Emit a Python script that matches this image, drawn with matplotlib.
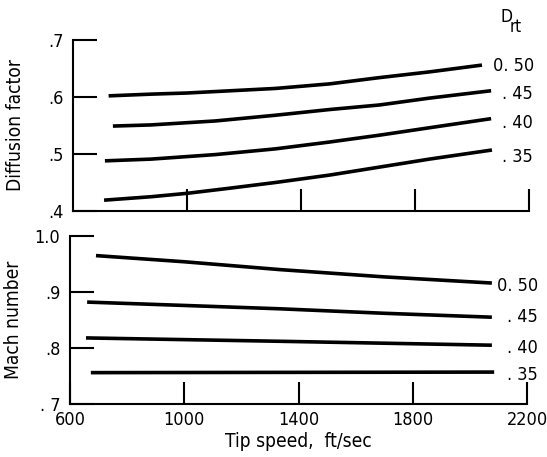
import matplotlib
matplotlib.use("Agg")
import matplotlib.pyplot as plt

plt.rcParams['font.family'] = ['DejaVu Sans']
plt.rcParams['font.stretch'] = 'condensed'

# ---- data ----
x_ticks = [600, 1000, 1400, 1800, 2200]
x_ticklabels = ['600', '1000', '1400', '1800', '2200']
drt_labels = ['0. 50', '. 45', '. 40', '. 35']
keys = ['0.50', '0.45', '0.40', '0.35']

# Diffusion factor (top panel)
df_x = {
    '0.50': [725, 873, 1000, 1310, 1500, 1675, 1850, 2035],
    '0.45': [740, 873, 1100, 1310, 1500, 1675, 1850, 2067],
    '0.40': [712, 873, 1100, 1310, 1500, 1675, 1850, 2067],
    '0.35': [709, 873, 1000, 1150, 1310, 1500, 1675, 1850, 2070],
}
df_y = {
    '0.50': [0.602, 0.605, 0.607, 0.615, 0.623, 0.634, 0.644, 0.656],
    '0.45': [0.549, 0.551, 0.558, 0.568, 0.578, 0.586, 0.598, 0.611],
    '0.40': [0.488, 0.491, 0.499, 0.509, 0.521, 0.533, 0.546, 0.562],
    '0.35': [0.419, 0.425, 0.431, 0.440, 0.450, 0.463, 0.477, 0.491, 0.507],
}
df_yticks = [0.4, 0.5, 0.6, 0.7]
df_yticklabels = ['.4', '.5', '.6', '.7']

# Mach number (bottom panel)
mn_x = {
    '0.50': [691, 1000, 1335, 1700, 2077],
    '0.45': [660, 1000, 1335, 1700, 2077],
    '0.40': [656, 1335, 2077],
    '0.35': [673, 2085],
}
mn_y = {
    '0.50': [0.965, 0.954, 0.940, 0.927, 0.916],
    '0.45': [0.882, 0.876, 0.870, 0.862, 0.855],
    '0.40': [0.818, 0.812, 0.805],
    '0.35': [0.756, 0.757],
}
mn_yticks = [0.7, 0.8, 0.9, 1.0]
mn_yticklabels = ['. 7', '.8', '.9', '1.0']

# label anchor positions (data coords)
df_lab_x = [2075, 2105, 2105, 2105]
df_lab_y = [0.654, 0.605, 0.554, 0.495]
mn_lab_x = [2095, 2130, 2130, 2130]
mn_lab_y = [0.910, 0.855, 0.800, 0.752]

W, H = 547, 457
fig = plt.figure(figsize=(W / 100, H / 100), dpi=100)
ax1 = fig.add_axes([73 / W, 1 - 211 / H, (529 - 73) / W, (211 - 40) / H])
ax2 = fig.add_axes([70 / W, 1 - 404 / H, (527 - 70) / W, (404 - 236) / H])

FS = 13
LFS = 13.8
LW = 2.6

def style(ax):
    ax.set_xlim(600, 2200)
    for s in ['top', 'right']:
        ax.spines[s].set_visible(False)
    for s in ['left', 'bottom']:
        ax.spines[s].set_linewidth(1.5)
    ax.tick_params(axis='both', direction='in', width=1.5, labelsize=FS, colors='black')
    ax.tick_params(axis='y', length=17, pad=7)
    ax.tick_params(axis='x', length=16, pad=5)

for ax, xs, ys, yt, ytl, ylim, labx, laby, ylabel in [
    (ax1, df_x, df_y, df_yticks, df_yticklabels, (0.4, 0.7), df_lab_x, df_lab_y, 'Diffusion factor'),
    (ax2, mn_x, mn_y, mn_yticks, mn_yticklabels, (0.7, 1.0), mn_lab_x, mn_lab_y, 'Mach number'),
]:
    style(ax)
    for k in keys:
        ax.plot(xs[k], ys[k], color='black', lw=LW, solid_capstyle='butt',
                solid_joinstyle='round', clip_on=False)
    ax.set_ylim(*ylim)
    ax.set_yticks(yt)
    ax.set_yticklabels(ytl)
    ax.set_xticks(x_ticks[1:])
    for lab, lx, ly in zip(drt_labels, labx, laby):
        ax.text(lx, ly, lab, fontsize=FS, ha='left', va='center', clip_on=False)
    ax.set_ylabel(ylabel, fontsize=LFS)

ax1.set_xticklabels([])
ax2.set_xticks(x_ticks)
ax2.set_xticklabels(x_ticklabels)
ax2.set_xlabel('Tip speed,  ft/sec', fontsize=LFS, labelpad=2)

ax1.yaxis.set_label_coords(-0.105, 0.5)
ax2.yaxis.set_label_coords(-0.102, 0.5)

fig.text(500 / W, 1 - 17 / H, 'D', fontsize=12.5, ha='left', va='center')
fig.text(510 / W, 1 - 27 / H, 'rt', fontsize=12, ha='left', va='center')

fig.savefig('out.png', dpi=100, facecolor='white')
